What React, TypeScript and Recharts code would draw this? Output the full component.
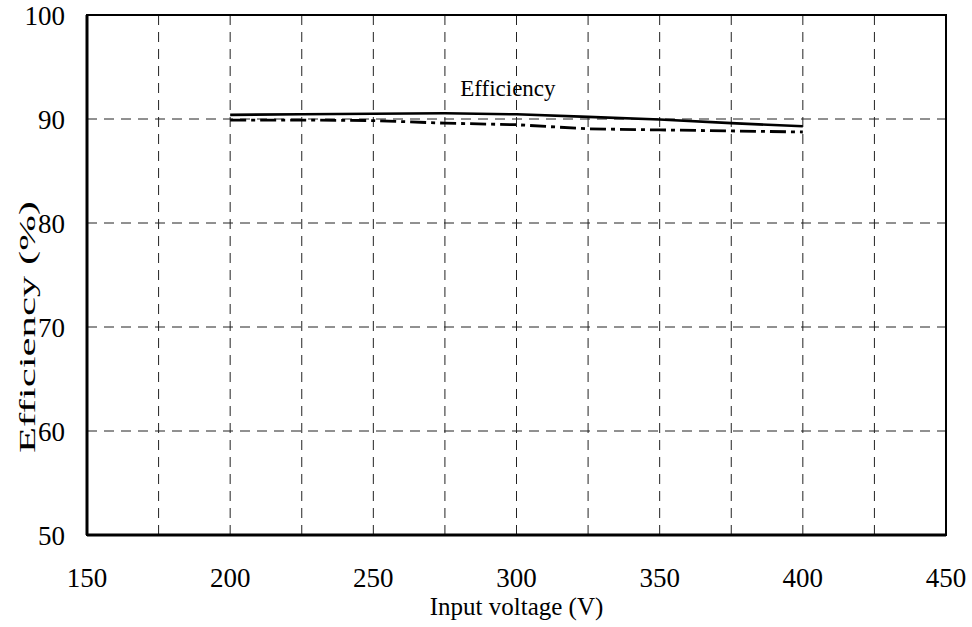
import React from "react";
import {
  LineChart,
  Line,
  XAxis,
  YAxis,
  CartesianGrid,
  ReferenceArea,
  ReferenceDot,
} from "recharts";

// input voltage (V)
const voltages = [200, 225, 250, 275, 300, 325, 350, 375, 400];
// upper curve (solid)
const effSolid = [90.4, 90.45, 90.5, 90.55, 90.45, 90.2, 89.95, 89.6, 89.3];
// lower curve (dash-dot)
const effDashDot = [89.9, 89.9, 89.85, 89.6, 89.45, 89.05, 88.95, 88.85, 88.75];

const xTicks = [150, 175, 200, 225, 250, 275, 300, 325, 350, 375, 400, 425, 450];
const yTicks = [50, 60, 70, 80, 90, 100];

const data = voltages.map((v, i) => ({
  v,
  solid: effSolid[i],
  dashdot: effDashDot[i],
}));

const FONT = "'Liberation Serif', 'Times New Roman', Times, serif";
const txt = { fontFamily: FONT };

export default function App() {
  return (
    <div
      style={{
        position: "absolute",
        left: 0,
        top: 0,
        background: "#fff",
        fontFamily: FONT,
      }}
    >
      <LineChart
        width={972}
        height={627}
        data={data}
        style={{ fontFamily: FONT }}
        margin={{ top: 15, right: 26, bottom: 0, left: 0 }}
      >
        <CartesianGrid stroke="#222" strokeWidth={1} strokeDasharray="10 7" />
        <XAxis
          dataKey="v"
          type="number"
          domain={[150, 450]}
          ticks={xTicks}
          interval={0}
          height={92}
          tickSize={0}
          tickMargin={33}
          tickFormatter={(t) => (t % 50 === 0 ? String(t) : "")}
          tick={{ fill: "#000", fontSize: 27, style: txt }}
          axisLine={{ stroke: "#000", strokeWidth: 3 }}
          tickLine={false}
          label={{
            content: (props: any) => {
              const vb = props.viewBox;
              return (
                <text
                  x={vb.x + vb.width / 2}
                  y={vb.y + 71}
                  textAnchor="middle"
                  dominantBaseline="central"
                  fontSize={25}
                  style={txt}
                  fill="#000"
                >
                  Input voltage (V)
                </text>
              );
            },
          }}
        />
        <YAxis
          type="number"
          domain={[50, 100]}
          ticks={yTicks}
          interval={0}
          width={87}
          tickSize={0}
          tickMargin={22}
          tick={{ fill: "#000", fontSize: 27, style: txt }}
          axisLine={{ stroke: "#000", strokeWidth: 3 }}
          tickLine={false}
          label={{
            content: (props: any) => {
              const vb = props.viewBox;
              const cx = 27;
              const cy = vb.y + vb.height / 2 + 52;
              return (
                <text
                  x={cx}
                  y={cy}
                  transform={`rotate(-90 ${cx} ${cy})`}
                  textAnchor="middle"
                  dominantBaseline="central"
                  fontSize={24}
                  style={txt}
                  fill="#000"
                  textLength={252}
                  lengthAdjust="spacingAndGlyphs"
                >
                  Efficiency (%)
                </text>
              );
            },
          }}
        />
        <ReferenceArea
          x1={150}
          x2={450}
          y1={50}
          y2={100}
          fill="none"
          stroke="#000"
          strokeWidth={2}
          ifOverflow="visible"
        />
        <Line
          dataKey="solid"
          stroke="#000"
          strokeWidth={2.6}
          dot={false}
          isAnimationActive={false}
        />
        <Line
          dataKey="dashdot"
          stroke="#000"
          strokeWidth={2.8}
          strokeDasharray="16 5 4 5"
          dot={false}
          isAnimationActive={false}
        />
        <ReferenceDot
          x={297}
          y={93}
          r={0}
          stroke="none"
          fill="none"
          label={{
            value: "Efficiency",
            position: "center",
            fontSize: 23,
            fill: "#000",
            style: txt,
          }}
        />
      </LineChart>
    </div>
  );
}
